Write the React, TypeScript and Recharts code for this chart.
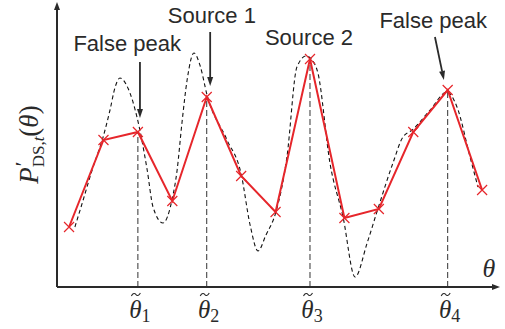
import React from 'react';
import { LineChart, Line, XAxis, YAxis, ReferenceLine, ReferenceDot, Label } from 'recharts';

// grid samples (red) – one per theta step
const sampleTheta = [0, 1, 2, 3, 4, 5, 6, 7, 8, 9, 10, 11, 12];
const samplePower = [60, 147, 155, 86, 190, 111, 75, 228, 69, 78, 155, 197, 97];

// underlying continuous spectrum (black dashed)
const curveTheta = [
  0.17, 0.41, 0.67, 0.99, 1.19, 1.34, 1.48, 1.71, 1.98, 2.27, 2.44, 2.73, 2.99, 3.14, 3.28, 3.43, 3.63,
  3.81, 4.01, 4.59, 5.0, 5.26, 5.49, 5.72, 6.01, 6.33, 6.62, 6.89, 7.06, 7.23, 7.58, 7.96, 8.31, 8.66,
  8.98, 9.41, 9.7, 9.97, 10.49, 10.98, 11.27, 11.65, 11.88,
];
const curvePower = [
  60, 87, 117, 150, 177, 200, 209, 199, 169, 117, 80, 64, 87, 117, 164, 207, 234,
  221, 192, 147, 113, 62, 36, 52, 75, 130, 220, 231, 227, 214, 124, 70, 10, 44,
  79, 124, 150, 157, 177, 195, 180, 130, 100,
];

// estimated directions
const estimateTheta = [2, 4, 7, 11];
const estimateIndex = ['1', '2', '3', '4'];
const estimatePower = [155, 190, 228, 197];

// annotations
const noteText = ['False peak', 'Source 1', 'Source 2', 'False peak'];
const noteTheta = [1.69, 4.15, 6.97, 10.58];
const notePower = [236, 264, 242, 259];
const arrowFrom = [[2.06, 225], [4.1, 255], null, [10.63, 250]];
const arrowTo = [[2.06, 169], [4.1, 201], null, [10.89, 207]];

const thetaDomain = [-0.35, 12.52];
const powerDomain = [0, 285];

const RED = '#e6262b';
const INK = '#2a2a2a';

const sampleData = sampleTheta.map((x, i) => ({ x, y: samplePower[i] }));
const curveData = curveTheta.map((x, i) => ({ x, y: curvePower[i] }));

const arrowShape = (head: number, width: number, strokeWidth: number) => (props: any) => {
  const { x1, y1, x2, y2 } = props;
  const len = Math.hypot(x2 - x1, y2 - y1) || 1;
  const ux = (x2 - x1) / len;
  const uy = (y2 - y1) / len;
  const bx = x2 - ux * head;
  const by = y2 - uy * head;
  const px = -uy * width;
  const py = ux * width;
  return (
    <g>
      <line x1={x1} y1={y1} x2={bx} y2={by} stroke={INK} strokeWidth={strokeWidth} />
      <path d={`M${x2},${y2} L${bx + px},${by + py} L${bx - px},${by - py} Z`} fill={INK} />
    </g>
  );
};

const CrossDot = (props: any) => {
  const { cx, cy, index } = props;
  if (cx == null || cy == null) return <g key={`d${index}`} />;
  const r = 5;
  return (
    <path
      key={`d${index}`}
      d={`M${cx - r},${cy - r} L${cx + r},${cy + r} M${cx - r},${cy + r} L${cx + r},${cy - r}`}
      stroke={RED}
      strokeWidth={1.2}
      fill="none"
    />
  );
};

const ThetaTick = (props: any) => {
  const { x, y, payload } = props;
  const k = estimateTheta.indexOf(payload.value);
  const tx = x - 2;
  const ty = y - 0.5;
  return (
    <g>
      {/* tilde accent */}
      <path
        d={`M${tx - 4.5},${ty + 1.5} C${tx - 3},${ty - 1.5} ${tx - 1},${ty - 1.5} ${tx},${ty} C${tx + 1},${ty + 1.5} ${tx + 3},${ty + 1.5} ${tx + 4.5},${ty - 1.5}`}
        stroke={INK}
        strokeWidth={1.1}
        fill="none"
      />
      <text x={x + 2} y={y + 23} textAnchor="middle" fontFamily="Liberation Serif" fill={INK}>
        <tspan fontStyle="italic" fontSize={25}>θ</tspan>
        <tspan fontSize={18} dy={4}>{estimateIndex[k]}</tspan>
      </text>
    </g>
  );
};

const YTitle = (props: any) => {
  const vb = props.viewBox || { x: 0, y: 0, width: 57, height: 285 };
  const cx = vb.x + 38;
  const cy = vb.y + vb.height / 2;
  return (
    <text
      transform={`translate(${cx},${cy}) rotate(-90)`}
      textAnchor="middle"
      fontFamily="Liberation Serif"
      fill={INK}
    >
      <tspan fontStyle="italic" fontSize={27}>P</tspan>
      <tspan fontSize={22} dy={-8} dx={1}>′</tspan>
      <tspan fontSize={17} dy={14} dx={-6}>DS,</tspan>
      <tspan fontSize={17} fontStyle="italic">t</tspan>
      <tspan fontSize={27} dy={-6}>(</tspan>
      <tspan fontSize={27} fontStyle="italic">θ</tspan>
      <tspan fontSize={27}>)</tspan>
    </text>
  );
};

const NoteText = (text: string) => (props: any) => {
  const { cx, cy } = props;
  return (
    <text x={cx} y={cy} textAnchor="middle" fontFamily="Liberation Sans" fontSize={22} fill={INK}>
      {text}
    </text>
  );
};

export default function App() {
  return (
    <div style={{ position: 'absolute', left: 0, top: 0, width: 505, height: 329, background: '#fff' }}>
      <LineChart width={505} height={329} margin={{ top: 2, right: 5, bottom: 12, left: 0 }}>
        <XAxis
          type="number"
          dataKey="x"
          domain={thetaDomain}
          ticks={estimateTheta}
          tick={<ThetaTick />}
          tickLine={false}
          axisLine={false}
          height={30}
          allowDataOverflow
        />
        <YAxis type="number" dataKey="y" domain={powerDomain} tick={false} axisLine={false} tickLine={false} width={57} allowDataOverflow>
          <Label content={<YTitle />} />
        </YAxis>

        {estimateTheta.map((t, i) => (
          <ReferenceLine
            key={`v${i}`}
            segment={[{ x: t, y: 0 }, { x: t, y: estimatePower[i] }]}
            stroke="#333"
            strokeWidth={1}
            strokeDasharray="6 3"
            ifOverflow="visible"
          />
        ))}

        <Line
          data={curveData}
          dataKey="y"
          type="monotone"
          stroke="#111"
          strokeWidth={1.1}
          strokeDasharray="4 3"
          dot={false}
          isAnimationActive={false}
        />
        <Line
          data={sampleData}
          dataKey="y"
          type="linear"
          stroke={RED}
          strokeWidth={2}
          dot={CrossDot}
          activeDot={false}
          isAnimationActive={false}
        />

        <ReferenceLine
          segment={[{ x: thetaDomain[0], y: 0 }, { x: thetaDomain[1], y: 0 }]}
          shape={arrowShape(8, 3, 2)}
          ifOverflow="visible"
        />
        <ReferenceLine
          segment={[{ x: thetaDomain[0], y: 0 }, { x: thetaDomain[0], y: powerDomain[1] }]}
          shape={arrowShape(8, 3, 2)}
          ifOverflow="visible"
        />

        {arrowFrom.map((from, i) =>
          from && arrowTo[i] ? (
            <ReferenceLine
              key={`a${i}`}
              segment={[{ x: from[0], y: from[1] }, { x: arrowTo[i]![0], y: arrowTo[i]![1] }]}
              shape={arrowShape(9, 3, 1.8)}
              ifOverflow="visible"
            />
          ) : null
        )}

        {noteText.map((t, i) => (
          <ReferenceDot key={`n${i}`} x={noteTheta[i]} y={notePower[i]} shape={NoteText(t)} ifOverflow="visible" />
        ))}

        <ReferenceDot
          x={12.2}
          y={10}
          ifOverflow="visible"
          shape={(p: any) => (
            <text x={p.cx} y={p.cy} textAnchor="middle" fontFamily="Liberation Serif" fontStyle="italic" fontSize={26} fill={INK}>
              θ
            </text>
          )}
        />
      </LineChart>
    </div>
  );
}
